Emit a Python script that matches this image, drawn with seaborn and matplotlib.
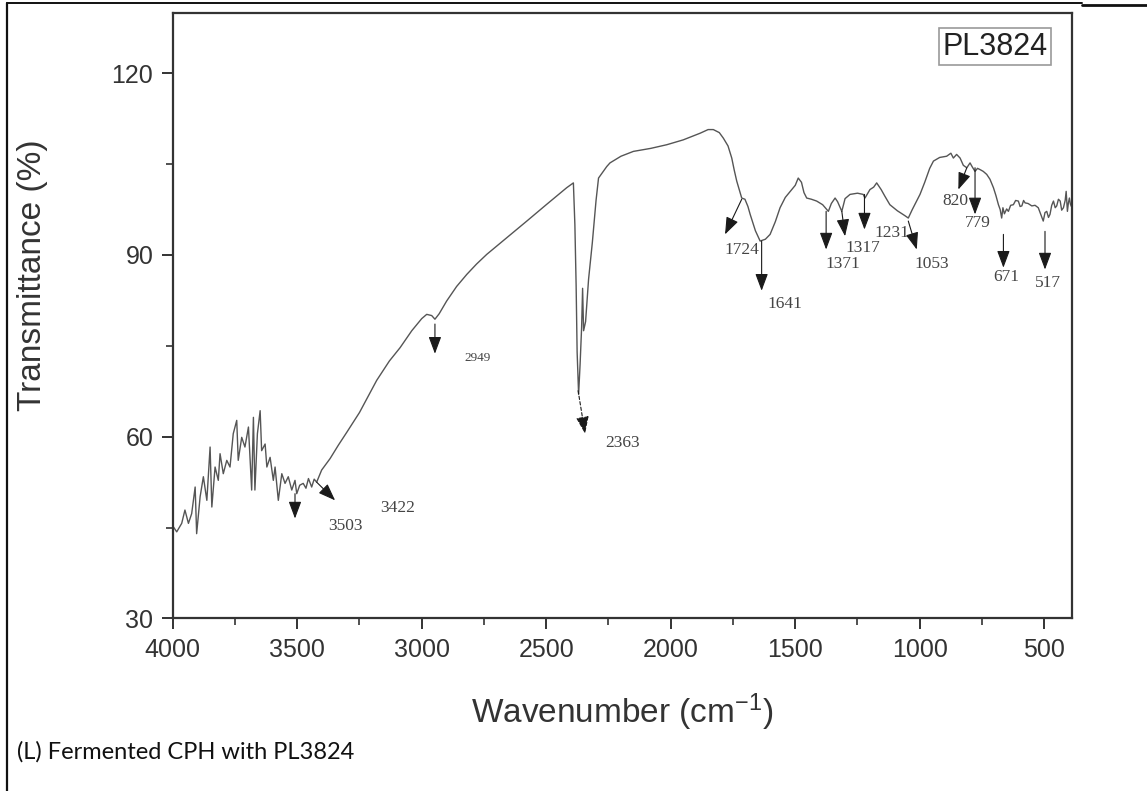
import matplotlib
matplotlib.use("Agg")
import matplotlib.pyplot as plt
from matplotlib.lines import Line2D
from matplotlib.ticker import MultipleLocator
import seaborn as sns
import pandas as pd

# ---------------- data ----------------
wavenumber = [3997, 3984, 3964, 3951, 3937, 3924, 3910, 3904, 3890, 3877, 3863, 3850, 3843, 3830,
              3817, 3810, 3797, 3783, 3770, 3757, 3743, 3737, 3723, 3710, 3696, 3683, 3676, 3670,
              3660, 3649, 3643, 3629, 3622, 3609, 3596, 3589, 3576, 3562, 3549, 3536, 3522, 3509,
              3502, 3490, 3476, 3465, 3455, 3442, 3432, 3422, 3402, 3368, 3335, 3300, 3250, 3181,
              3130, 3087, 3040, 3000, 2980, 2960, 2947, 2930, 2900, 2860, 2819, 2780, 2739, 2660,
              2578, 2500, 2418, 2391, 2385, 2380, 2376, 2370, 2364, 2358, 2354, 2350, 2342, 2330,
              2315, 2300, 2290, 2257, 2244, 2200, 2150, 2080, 2016, 1950, 1882, 1850, 1829, 1805,
              1789, 1770, 1755, 1745, 1735, 1715, 1702, 1690, 1681, 1660, 1641, 1620, 1601, 1580,
              1561, 1540, 1520, 1500, 1488, 1475, 1465, 1454, 1435, 1414, 1390, 1367, 1355, 1340,
              1330, 1313, 1300, 1280, 1250, 1227, 1220, 1200, 1185, 1173, 1155, 1140, 1120, 1090,
              1060, 1046, 1030, 1015, 999, 980, 960, 945, 920, 892, 875, 865, 852, 838, 825, 811,
              798, 790, 778, 768, 758, 745, 731, 718, 704, 694, 684, 677, 671, 666, 660, 651, 644,
              635, 624, 615, 604, 597, 590, 583, 577, 565, 550, 537, 524, 515, 504, 497, 490, 483,
              477, 470, 463, 456, 450, 443, 436, 430, 423, 416, 412, 409, 407, 403, 399, 395, 391]
transmittance = [45.1, 44.3, 45.7, 47.9, 45.7, 47.3, 51.7, 44.0, 50.1, 53.4, 49.5, 58.3, 48.4, 55.0,
                 52.8, 57.2, 53.9, 56.1, 55.0, 60.5, 62.7, 56.1, 59.9, 58.3, 61.6, 51.2, 63.2, 51.2,
                 60.5, 64.3, 57.7, 58.8, 55.0, 56.6, 52.8, 55.0, 49.5, 53.9, 52.3, 53.4, 51.2, 52.8,
                 50.6, 52.0, 52.3, 51.5, 53.1, 51.7, 53.0, 52.5, 54.5, 56.4, 58.6, 60.8, 64.0, 69.3,
                 72.5, 74.7, 77.5, 79.5, 80.2, 80.0, 79.4, 80.3, 82.4, 84.8, 86.8, 88.5, 90.1, 92.8,
                 95.6, 98.3, 101.1, 101.9, 95.0, 85.0, 74.0, 67.0, 72.0, 78.0, 84.5, 77.5, 79.0, 86.0,
                 92.0, 99.0, 102.7, 104.6, 105.2, 106.3, 107.1, 107.6, 108.2, 109.0, 110.1, 110.7, 110.7, 110.2,
                 109.3, 108.0, 106.0, 104.0, 102.2, 99.4, 99.2, 98.0, 96.7, 94.0, 92.3, 92.6, 93.4, 95.5,
                 97.8, 99.5, 100.5, 101.5, 102.7, 102.0, 100.3, 99.4, 99.2, 98.9, 98.3, 97.2, 98.5, 99.4,
                 98.8, 97.2, 99.3, 100.0, 100.2, 100.0, 99.4, 100.8, 101.2, 101.9, 100.8, 99.7, 98.3, 97.3,
                 96.5, 96.1, 97.5, 98.7, 100.0, 102.0, 104.3, 105.5, 106.1, 106.3, 106.8, 106.0, 106.6, 106.0, 104.8, 104.4,
                 105.2, 104.6, 103.8, 104.3, 104.1, 103.8, 103.3, 102.5, 101.1, 99.8, 98.3, 97.5, 96.1, 97.8, 96.8, 97.6, 97.2,
                 98.2, 98.3, 99.0, 98.9, 98.0, 98.1, 99.0, 98.6, 98.5, 98.1, 98.2, 97.8, 96.8, 95.6, 97.0, 97.2, 96.2,
                 96.7, 98.2, 98.9, 97.8, 98.1, 99.2, 98.9, 97.4, 97.8, 99.0, 100.5, 98.5, 97.2, 98.6, 99.4, 98.4, 98.0]

peak_labels = ["3503", "3422", "2949", "2363", "1724", "1641", "1371", "1317",
               "1231", "1053", "820", "779", "671", "517"]
# arrow tail (on the curve) and head positions, label positions, in data units
arrow_tail_x = [3509, 3422, 2947, 2372, 1715, 1635, 1376, 1313, 1222, 1046, 811, 778, 664, 497]
arrow_tail_y = [50.6, 52.5, 78.6, 67.6, 99.2, 92.3, 97.2, 97.2, 100.0, 95.6, 104.4, 104.4, 93.4, 93.9]
arrow_head_x = [3509, 3348, 2947, 2344, 1782, 1635, 1376, 1300, 1222, 1012, 845, 778, 664, 497]
arrow_head_y = [46.5, 49.5, 73.7, 60.5, 93.4, 84.1, 90.9, 93.1, 94.2, 90.9, 100.8, 96.7, 87.9, 87.6]
label_x = [3308, 3095, 2774, 2195, 1715, 1541, 1307, 1227, 1113, 952, 858, 765, 651, 484]
label_y = [45.2, 48.2, 73.0, 58.9, 90.9, 81.9, 88.5, 91.2, 93.6, 88.5, 98.9, 95.3, 86.3, 85.4]

df = pd.DataFrame({"Wavenumber": wavenumber, "Transmittance": transmittance})

# ---------------- figure ----------------
sns.set_theme(style="ticks")
plt.rcParams["font.family"] = ["Liberation Sans", "DejaVu Sans"]
plt.rcParams["mathtext.default"] = "regular"

fig = plt.figure(figsize=(11.47, 7.91), dpi=100)
ax = fig.add_axes([0.1506, 0.2181, 0.7837, 0.7659])

sns.lineplot(data=df, x="Wavenumber", y="Transmittance", sort=False, estimator=None,
             color="#555555", lw=1.0, ax=ax)

ax.set_xlim(4000, 390)
ax.set_ylim(30, 130)
ax.xaxis.set_major_locator(MultipleLocator(500))
ax.xaxis.set_minor_locator(MultipleLocator(250))
ax.yaxis.set_major_locator(MultipleLocator(30))
ax.yaxis.set_minor_locator(MultipleLocator(15))
ax.set_yticks([30, 60, 90, 120])

for s in ax.spines.values():
    s.set_visible(True)
    s.set_linewidth(1.6)
    s.set_color("#333333")

ax.tick_params(axis="both", which="major", direction="out", length=8, width=1.4,
               color="#333333", labelsize=18, labelcolor="#333333", pad=6)
ax.tick_params(axis="both", which="minor", direction="out", length=5, width=1.2,
               color="#333333")

ax.set_xlabel("Wavenumber (cm$^{-1}$)", fontsize=24, color="#333333")
ax.set_ylabel("Transmittance (%)", fontsize=24, color="#333333")
ax.xaxis.set_label_coords(0.5, -0.121)
ax.yaxis.set_label_coords(-0.139, 0.567)

# peak annotations
for lab, tx, ty, hx, hy, lx, ly in zip(peak_labels, arrow_tail_x, arrow_tail_y,
                                       arrow_head_x, arrow_head_y, label_x, label_y):
    ls = (0, (3, 2)) if lab == "2363" else "-"
    ax.annotate("", xy=(hx, hy), xytext=(tx, ty),
                arrowprops=dict(arrowstyle="-|>,head_length=0.75,head_width=0.28",
                                color="#1a1a1a", lw=0.8, shrinkA=0, shrinkB=0,
                                mutation_scale=14, linestyle=ls))
    fs = 9.5 if lab == "2949" else 12.5
    ax.text(lx, ly, lab, fontsize=fs, color="#444444", ha="center", va="center",
            family=["Liberation Serif", "DejaVu Serif"])

# legend-like label box
ax.text(0.915, 0.944, "PL3824", transform=ax.transAxes, fontsize=22, color="#222222",
        ha="center", va="center",
        bbox=dict(boxstyle="square,pad=0.12", facecolor="white", edgecolor="#9a9a9a", lw=1.2))

# caption and outer frame (table cell)
fig.text(17 / 1147, 1 - 752 / 791, "(L) Fermented CPH with PL3824", fontsize=17,
         color="#111111", ha="left", va="center", family=["Lato", "DejaVu Sans"])
fig.add_artist(Line2D([7 / 1147, 7 / 1147], [0, 1 - 3 / 791], transform=fig.transFigure,
                      color="#111111", lw=1.6))
fig.add_artist(Line2D([7 / 1147, 1082 / 1147], [1 - 3 / 791, 1 - 3 / 791],
                      transform=fig.transFigure, color="#111111", lw=1.4))
fig.add_artist(Line2D([1082 / 1147, 1], [1 - 4.5 / 791, 1 - 4.5 / 791],
                      transform=fig.transFigure, color="#111111", lw=2.0))

fig.savefig("out.png", dpi=100)
